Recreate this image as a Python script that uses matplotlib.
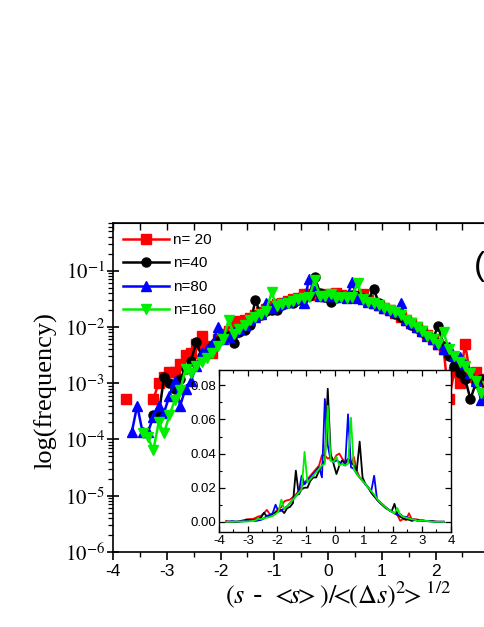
import numpy as np
import matplotlib
matplotlib.use("Agg")
import matplotlib.pyplot as plt
from matplotlib.ticker import MultipleLocator, LogLocator, NullFormatter, FuncFormatter

plt.rcParams["mathtext.fontset"] = "stix"
plt.rcParams["axes.unicode_minus"] = False

nan = np.nan

# bin centres of the normalised size axis
x_bins = np.round(np.arange(-3.75, 3.80, 0.1), 2)

# frequency per bin (nan = empty bin)
freq_n20 = [
    5.2e-4, nan, nan, nan, nan, 5.2e-4, 1.0e-3, 1.3e-3, 1.6e-3, 1.6e-3,
    2.2e-3, 3.1e-3, 3.5e-3, 5.0e-3, 7.0e-3, 4.5e-3, 3.5e-3, 6.0e-3, 7.5e-3, 8.5e-3,
    1.2e-2, 1.26e-2, 1.3e-2, 1.45e-2, 1.6e-2, 1.8e-2, 2.05e-2, 2.3e-2, 2.5e-2, 2.7e-2,
    2.9e-2, 3.1e-2, 3.3e-2, 3.9e-2, 3.9e-2, 3.7e-2, 3.8e-2, 3.6e-2, 3.9e-2, 4.0e-2,
    3.7e-2, 3.5e-2, 3.6e-2, 3.4e-2, 3.8e-2, 3.0e-2, 2.6e-2, 2.4e-2, 2.2e-2, 2.0e-2,
    1.75e-2, 1.5e-2, 1.3e-2, 1.15e-2, 1.0e-2, 8.5e-3, 7.2e-3, 6.0e-3, 5.0e-3, 4.0e-3,
    5.2e-4, 1.6e-3, 1.0e-3, 5.0e-3, 1.3e-3, 1.6e-3, 1.2e-3, 8.0e-4, 6.0e-4, 4.0e-4,
    3.0e-4, 4.0e-4, 2.0e-4, nan, nan, nan,
]
freq_n40 = [
    nan, nan, nan, nan, nan, 2.7e-4, 2.7e-4, 1.3e-3, 1.0e-3, 8.0e-4,
    1.2e-3, 1.8e-3, 2.5e-3, 5.3e-3, 3.0e-3, 3.5e-3, 4.5e-3, 5.5e-3, 6.5e-3, 7.0e-3,
    5.1e-3, 8.0e-3, 8.7e-3, 1.1e-2, 3.0e-2, 1.6e-2, 1.9e-2, 2.0e-2, 2.0e-2, 2.4e-2,
    2.6e-2, 2.6e-2, 3.0e-2, 3.3e-2, 3.6e-2, 7.8e-2, 4.0e-2, 3.4e-2, 2.8e-2, 3.3e-2,
    3.6e-2, 3.4e-2, 3.7e-2, 3.5e-2, 3.3e-2, 3.0e-2, 4.7e-2, 2.6e-2, 2.2e-2, 2.0e-2,
    1.7e-2, 1.5e-2, 1.3e-2, 1.1e-2, 9.5e-3, 8.0e-3, 7.0e-3, 6.0e-3, 1.05e-2, 4.5e-3,
    3.0e-3, 2.0e-3, 1.5e-3, 1.2e-3, 5.2e-4, 1.0e-3, 1.2e-3, 9.0e-4, 7.0e-4, 5.0e-4,
    4.0e-4, 3.0e-4, nan, nan, nan, nan,
]
freq_n80 = [
    nan, 1.35e-4, 4.0e-4, 1.35e-4, 1.35e-4, 2.5e-4, 4.0e-4, 3.0e-4, 6.0e-4, 1.1e-3,
    4.0e-4, 8.0e-4, 1.1e-3, 2.0e-3, 3.5e-3, 4.0e-3, 5.0e-3, 1.0e-2, 6.0e-3, 6.5e-3,
    8.0e-3, 9.0e-3, 1.1e-2, 1.3e-2, 1.5e-2, 1.7e-2, 2.7e-2, 2.2e-2, 2.4e-2, 2.6e-2,
    2.8e-2, 3.0e-2, 3.2e-2, 2.6e-2, 7.2e-2, 4.5e-2, 3.6e-2, 3.5e-2, 3.6e-2, 3.5e-2,
    3.4e-2, 3.3e-2, 6.3e-2, 3.2e-2, 3.1e-2, 2.8e-2, 2.6e-2, 2.4e-2, 2.2e-2, 2.0e-2,
    1.8e-2, 2.7e-2, 1.3e-2, 1.15e-2, 1.0e-2, 8.5e-3, 7.0e-3, 6.0e-3, 5.0e-3, 4.0e-3,
    4.4e-3, 3.0e-3, 2.9e-3, 2.2e-3, 1.5e-3, 1.1e-3, 5.0e-4, 8.0e-4, 6.0e-4, 4.0e-4,
    3.0e-4, 2.0e-4, nan, nan, nan, nan,
]
freq_n160 = [
    nan, nan, nan, 1.3e-4, 1.1e-4, 6.4e-5, 2.0e-4, 1.3e-4, 2.7e-4, 5.0e-4,
    7.5e-4, 1.8e-3, 1.5e-3, 2.0e-3, 2.4e-3, 2.8e-3, 3.5e-3, 4.5e-3, 6.0e-3, 1.3e-2,
    7.5e-3, 9.0e-3, 1.1e-2, 1.3e-2, 1.5e-2, 1.7e-2, 1.9e-2, 4.1e-2, 2.3e-2, 2.5e-2,
    2.7e-2, 2.9e-2, 3.1e-2, 3.3e-2, 3.4e-2, 6.8e-2, 3.6e-2, 3.5e-2, 3.8e-2, 3.3e-2,
    3.4e-2, 3.3e-2, 3.4e-2, 6.1e-2, 3.1e-2, 2.8e-2, 2.6e-2, 2.4e-2, 2.2e-2, 2.0e-2,
    1.8e-2, 1.6e-2, 1.35e-2, 1.15e-2, 1.0e-2, 8.5e-3, 7.0e-3, 6.0e-3, 5.0e-3, 8.0e-3,
    4.0e-3, 3.0e-3, 2.4e-3, 2.0e-3, 1.5e-3, 1.1e-3, 6.6e-4, 9.0e-4, 7.0e-4, 5.0e-4,
    3.0e-4, nan, nan, nan, nan, nan,
]

series = [
    ("n= 20", freq_n20, "#ff0000", "s"),
    ("n=40", freq_n40, "black", "o"),
    ("n=80", freq_n80, "#0000ff", "^"),
    ("n=160", freq_n160, "#00ee00", "v"),
]

SANS = "Liberation Sans"
SERIF = "Liberation Serif"

fig = plt.figure(figsize=(4.85, 6.27), dpi=100)

# main log plot, it runs past the right edge like the cropped original
ax = fig.add_axes([113 / 485, 75 / 627, 430 / 485, 329 / 627])
for label, vals, col, mk in series:
    ax.plot(x_bins, vals, color=col, marker=mk, ms=6.5, lw=1.8, label=label)

ax.set_yscale("log")
ax.set_xlim(-4, 4)
ax.set_ylim(1e-6, 0.7)
ax.xaxis.set_major_locator(MultipleLocator(1))
ax.xaxis.set_minor_locator(MultipleLocator(0.5))
ax.yaxis.set_major_locator(LogLocator(base=10, numticks=10))
ax.yaxis.set_minor_locator(LogLocator(base=10, subs=np.arange(2, 10), numticks=20))
ax.yaxis.set_major_formatter(FuncFormatter(lambda v, p: r"$10^{%d}$" % round(np.log10(v))))
ax.yaxis.set_minor_formatter(NullFormatter())
ax.tick_params(axis="x", which="major", direction="out", length=6, width=1.2,
               labelsize=12.5, pad=3)
ax.tick_params(axis="x", which="minor", direction="out", length=3.5, width=1.0)
ax.tick_params(axis="y", which="major", direction="inout", length=8, width=1.2,
               labelsize=15, pad=2)
ax.tick_params(axis="y", which="minor", direction="out", length=3.5, width=0.9)
for t in ax.get_xticklabels():
    t.set_fontfamily(SANS)
for sp in ax.spines.values():
    sp.set_linewidth(1.2)

top = ax.secondary_xaxis("top")
top.xaxis.set_major_locator(MultipleLocator(0.5))
top.tick_params(direction="in", length=5, width=1.0, labeltop=False)

ax.set_ylabel("log(frequency)", fontfamily=SERIF, fontsize=19)
ax.yaxis.set_label_coords(-0.13, 0.49)
ax.set_xlabel(r"$(s$ - $<\!\!s\!\!>)/\!\!<\!\!(\Delta s)^2\!\!>^{1/2}$", fontsize=19)
ax.xaxis.set_label_coords(0.523, -0.085)

leg = ax.legend(loc="upper left", bbox_to_anchor=(0.0, 1.0), frameon=False,
                handlelength=3.0, handletextpad=0.25, labelspacing=0.62,
                borderaxespad=0.25, prop={"family": SANS, "size": 11})

fig.text(474 / 485, 1 - 267 / 627, "(a)", fontsize=24, fontfamily=SANS,
         ha="left", va="center")

# inset, linear scale
ins = fig.add_axes([219 / 485, 95 / 627, 232 / 485, 162 / 627])
ins.set_facecolor("white")
for label, vals, col, mk in series:
    ins.plot(x_bins, np.nan_to_num(np.array(vals, dtype=float)), color=col, lw=1.3)
ins.set_xlim(-4, 4)
ins.set_ylim(-0.006, 0.089)
ins.xaxis.set_major_locator(MultipleLocator(1))
ins.xaxis.set_minor_locator(MultipleLocator(0.5))
ins.yaxis.set_major_locator(MultipleLocator(0.02))
ins.yaxis.set_minor_locator(MultipleLocator(0.01))
ins.yaxis.set_major_formatter(FuncFormatter(lambda v, p: f"{v:.2f}"))
ins.tick_params(which="both", direction="in", top=True, right=True, labelsize=9.5, pad=2)
ins.tick_params(which="major", length=4, width=0.9)
ins.tick_params(which="minor", length=2.5, width=0.8)
for t in ins.get_xticklabels() + ins.get_yticklabels():
    t.set_fontfamily(SANS)
for sp in ins.spines.values():
    sp.set_linewidth(1.0)

fig.savefig("out.png", dpi=100)
